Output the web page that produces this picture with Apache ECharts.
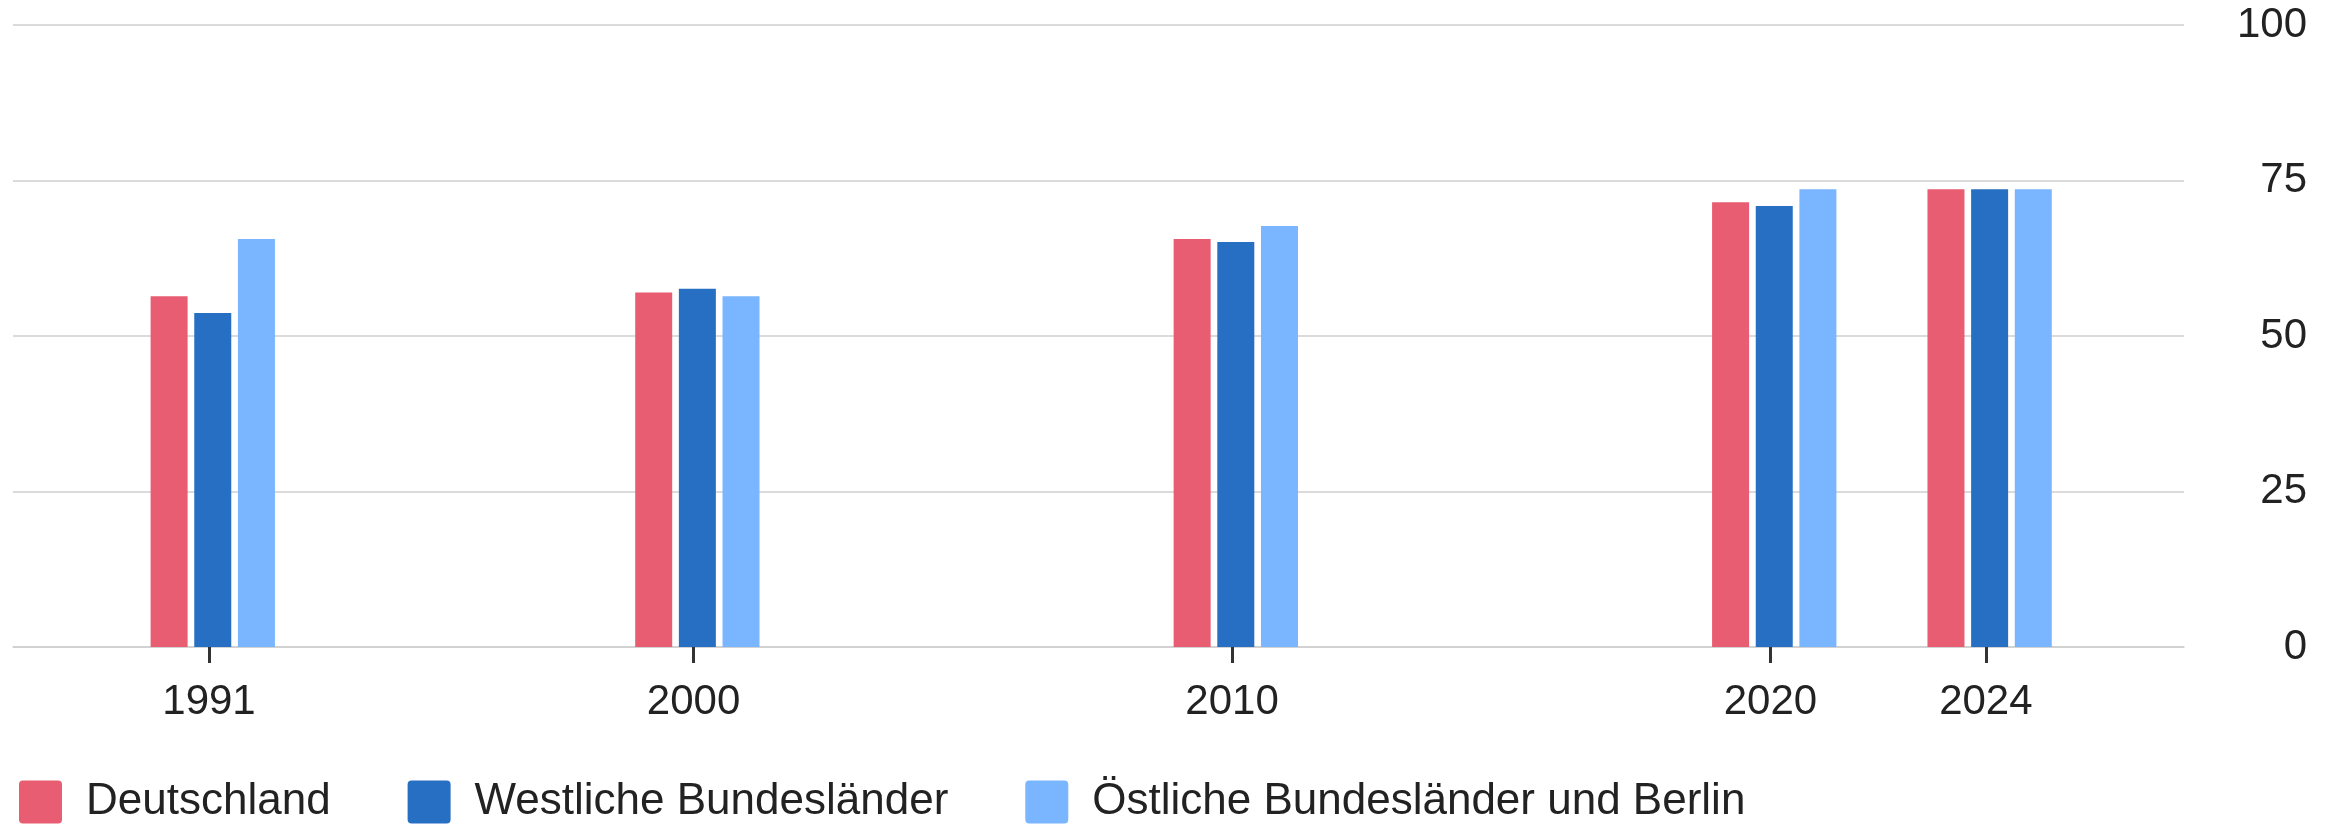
<!DOCTYPE html>
<html>
<head>
<meta charset="utf-8">
<script src="https://cdn.jsdelivr.net/npm/echarts@6/dist/echarts.min.js"></script>
<style>
  html, body { margin: 0; padding: 0; background: #fff; }
  #myChart { width: 2339px; height: 827px; }
</style>
</head>
<body>
<div id="myChart"></div>
<script>
var years = [1991, 2000, 2010, 2020, 2024];
var deutschland = [56.4, 57.0, 65.6, 71.5, 73.6];
var westlich = [53.7, 57.6, 65.1, 70.9, 73.6];
var oestlich = [65.6, 56.4, 67.7, 73.6, 73.6];
var seriesNames = ["Deutschland", "Westliche Bundesländer", "Östliche Bundesländer und Berlin"];
var colors = ["#E85D71", "#266FC2", "#7AB5FF"];

var font = '"Liberation Sans", Arial, sans-serif';

function pairs(values) {
  return years.map(function (y, i) {
    return [y, values[i]];
  });
}

var chartDom = document.getElementById("myChart");
var myChart = echarts.init(chartDom);
var option;

var legendIcon =
  "path://M4,0H39A4,4,0,0,1,43,4V39A4,4,0,0,1,39,43H4A4,4,0,0,1,0,39V4A4,4,0,0,1,4,0Z";

// bars sit a few px right of the year ticks in the original,
// so the bars get their own (hidden) axis
option = {
  animation: false,
  color: colors,
  grid: {
    left: 13,
    right: 155,
    top: 25,
    bottom: 180,
  },
  legend: {
    left: 19,
    top: 780,
    padding: 0,
    icon: legendIcon,
    itemWidth: 43,
    itemHeight: 43,
    itemGap: 77,
    textStyle: {
      fontFamily: font,
      fontSize: 44,
      color: "#222",
      padding: [6, 0, 0, 19],
    },
    data: seriesNames,
  },
  xAxis: [
    {
      type: "value",
      min: 1987.29,
      max: 2027.61,
      show: false,
      splitLine: { show: false },
    },
    {
      type: "value",
      position: "bottom",
      min: 1987.36,
      max: 2027.68,
      splitLine: { show: false },
      axisLine: {
        show: true,
        lineStyle: { color: "#cfcfcf", width: 1.5 },
      },
      axisTick: {
        show: true,
        customValues: years,
        length: 16,
        lineStyle: { color: "#333", width: 3 },
      },
      axisLabel: {
        customValues: years,
        margin: 34,
        fontFamily: font,
        fontSize: 42,
        color: "#222",
        formatter: function (value) {
          return String(value);
        },
      },
    },
  ],
  yAxis: {
    type: "value",
    position: "right",
    min: 0,
    max: 100,
    interval: 25,
    axisLine: { show: false },
    axisTick: { show: false },
    splitLine: {
      show: true,
      lineStyle: { color: "#cfcfcf", width: 1.5 },
    },
    axisLabel: {
      align: "right",
      margin: 123,
      fontFamily: font,
      fontSize: 42,
      color: "#222",
      padding: [3, 0, 0, 0],
    },
  },
  series: [
    {
      name: seriesNames[0],
      type: "bar",
      xAxisIndex: 0,
      barWidth: 37,
      barGap: "18%",
      data: pairs(deutschland),
    },
    {
      name: seriesNames[1],
      type: "bar",
      xAxisIndex: 0,
      barWidth: 37,
      barGap: "18%",
      data: pairs(westlich),
    },
    {
      name: seriesNames[2],
      type: "bar",
      xAxisIndex: 0,
      barWidth: 37,
      barGap: "18%",
      data: pairs(oestlich),
    },
  ],
};

option && myChart.setOption(option);
</script>
</body>
</html>
